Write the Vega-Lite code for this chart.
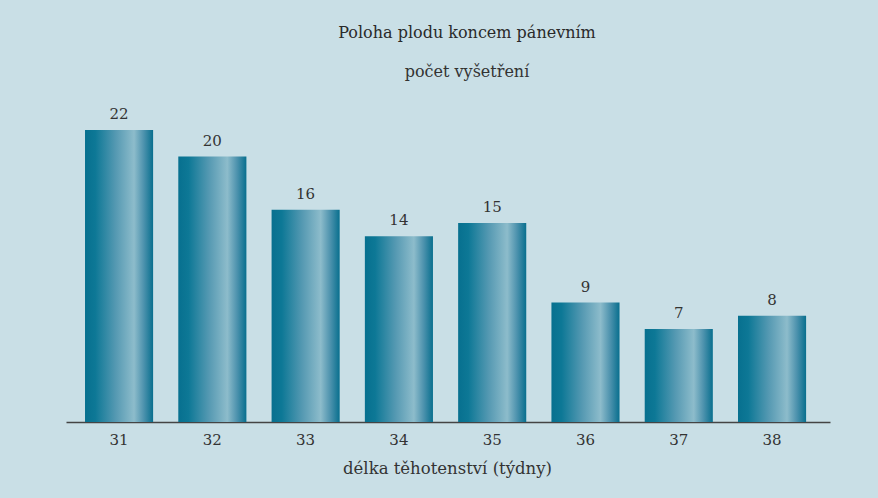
{
  "$schema": "https://vega.github.io/schema/vega-lite/v6.json",
  "autosize": "none",
  "width": 764,
  "height": 292,
  "padding": {"left": 66, "top": 130, "right": 48, "bottom": 76},
  "background": "#c9dfe6",
  "title": {
    "text": "Poloha plodu koncem pánevním",
    "subtitle": "počet vyšetření",
    "anchor": "middle",
    "dx": 19,
    "offset": 27,
    "font": "DejaVu Serif",
    "fontSize": 16,
    "fontWeight": "normal",
    "color": "#2a2a2a",
    "subtitleFont": "DejaVu Serif",
    "subtitleFontSize": 16,
    "subtitleColor": "#333333",
    "subtitlePadding": 23
  },
  "config": {
    "view": {"stroke": null},
    "font": "DejaVu Serif"
  },
  "data": {
    "values": [
      {"tyden": "31", "pocet": 22},
      {"tyden": "32", "pocet": 20},
      {"tyden": "33", "pocet": 16},
      {"tyden": "34", "pocet": 14},
      {"tyden": "35", "pocet": 15},
      {"tyden": "36", "pocet": 9},
      {"tyden": "37", "pocet": 7},
      {"tyden": "38", "pocet": 8}
    ]
  },
  "encoding": {
    "x": {
      "field": "tyden",
      "type": "nominal",
      "sort": null,
      "scale": {"paddingInner": 0.27, "paddingOuter": 0.23, "align": 0.443},
      "axis": {
        "title": "délka těhotenství (týdny)",
        "labelAngle": 0,
        "labelFont": "DejaVu Serif",
        "labelFontSize": 15,
        "labelColor": "#333333",
        "labelPadding": 10,
        "ticks": false,
        "domainColor": "#444444",
        "domainWidth": 1.5,
        "titleFont": "DejaVu Serif",
        "titleFontSize": 16.5,
        "titleFontWeight": "normal",
        "titleColor": "#333333",
        "titlePadding": 13,
        "titleX": 381
      }
    },
    "y": {
      "field": "pocet",
      "type": "quantitative",
      "scale": {"domain": [0, 22], "nice": false},
      "axis": null
    }
  },
  "layer": [
    {
      "mark": {
        "type": "bar",
        "color": {
          "gradient": "linear",
          "x1": 0, "y1": 0, "x2": 1, "y2": 0,
          "stops": [
            {"offset": 0, "color": "#07708f"},
            {"offset": 0.15, "color": "#0d7896"},
            {"offset": 0.45, "color": "#5599b2"},
            {"offset": 0.72, "color": "#8dbccb"},
            {"offset": 0.86, "color": "#4e93ae"},
            {"offset": 1, "color": "#086f8e"}
          ]
        }
      }
    },
    {
      "mark": {
        "type": "text",
        "baseline": "bottom",
        "dy": -8,
        "font": "DejaVu Serif",
        "fontSize": 15,
        "color": "#333333",
        "clip": false
      },
      "encoding": {"text": {"field": "pocet", "type": "quantitative"}}
    }
  ]
}
